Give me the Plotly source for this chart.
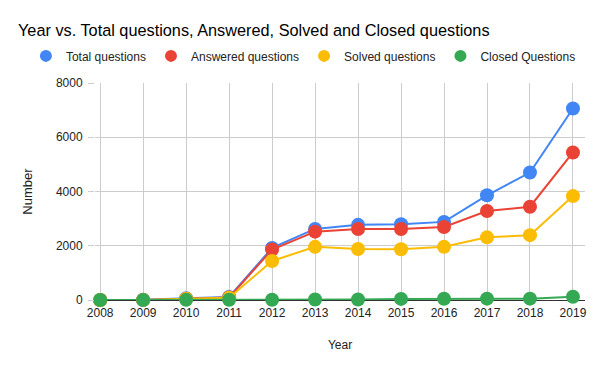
import plotly.graph_objects as go

years = [2008, 2009, 2010, 2011, 2012, 2013, 2014, 2015, 2016, 2017, 2018, 2019]
total_q = [2, 5, 60, 110, 1920, 2620, 2770, 2790, 2880, 3860, 4700, 7060]
answered_q = [1, 3, 50, 90, 1860, 2520, 2620, 2620, 2690, 3280, 3440, 5440]
solved_q = [1, 3, 50, 80, 1440, 1960, 1880, 1870, 1960, 2310, 2390, 3830]
closed_q = [0, 0, 5, 10, 10, 20, 20, 40, 45, 50, 50, 120]
y_ticks = [0, 2000, 4000, 6000, 8000]

series = [
    ("Total questions", total_q, "#4285F4"),
    ("Answered questions", answered_q, "#EA4335"),
    ("Solved questions", solved_q, "#FBBC04"),
    ("Closed Questions", closed_q, "#34A853"),
]

FONT = "Liberation Sans, Arial, sans-serif"
fig = go.Figure()
for name, vals, col in series:
    fig.add_trace(go.Scatter(
        x=years, y=vals, name=name, mode="lines+markers",
        line=dict(color=col, width=2),
        marker=dict(color=col, size=14),
        showlegend=False, cliponaxis=False,
    ))
for name, vals, col in series:
    fig.add_trace(go.Scatter(
        x=[None], y=[None], name=name, mode="markers",
        marker=dict(color=col, size=12),
        showlegend=True,
    ))

fig.update_layout(
    width=600, height=371,
    margin=dict(l=95, r=15, t=83, b=71, autoexpand=False),
    paper_bgcolor="white", plot_bgcolor="white",
    font=dict(family=FONT, size=12, color="#222222"),
    title=dict(text="Year vs. Total questions, Answered, Solved and Closed questions",
               x=18/600, xanchor="left", y=1-30/371, yanchor="middle",
               font=dict(size=16.3, color="#000000", family=FONT)),
    legend=dict(orientation="h", x=-0.141, xanchor="left", y=1.125, yanchor="middle",
                font=dict(size=12, color="#222222"), itemwidth=30,
                tracegroupgap=0),
    xaxis=dict(
        range=[2007.88, 2019.28], tickmode="array", tickvals=years,
        ticktext=[str(y) for y in years],
        showgrid=True, gridcolor="#cccccc", gridwidth=1,
        showline=False, zeroline=False, ticks="", automargin=False,
        ticklabelstandoff=4,
        title=dict(text="Year", standoff=21, font=dict(size=12)),
    ),
    yaxis=dict(
        range=[0, 8000], tickvals=y_ticks,
        showgrid=True, gridcolor="#cccccc", gridwidth=1,
        zeroline=True, zerolinecolor="#333333", zerolinewidth=1,
        showline=False, ticks="outside", ticklen=6, tickcolor="#cccccc",
        automargin=False, ticklabelstandoff=3,
        title=dict(text="Number", standoff=20, font=dict(size=13)),
    ),
)

fig.write_html("out.html", config={"displayModeBar": False},
               post_script="document.body.style.margin='0';")
